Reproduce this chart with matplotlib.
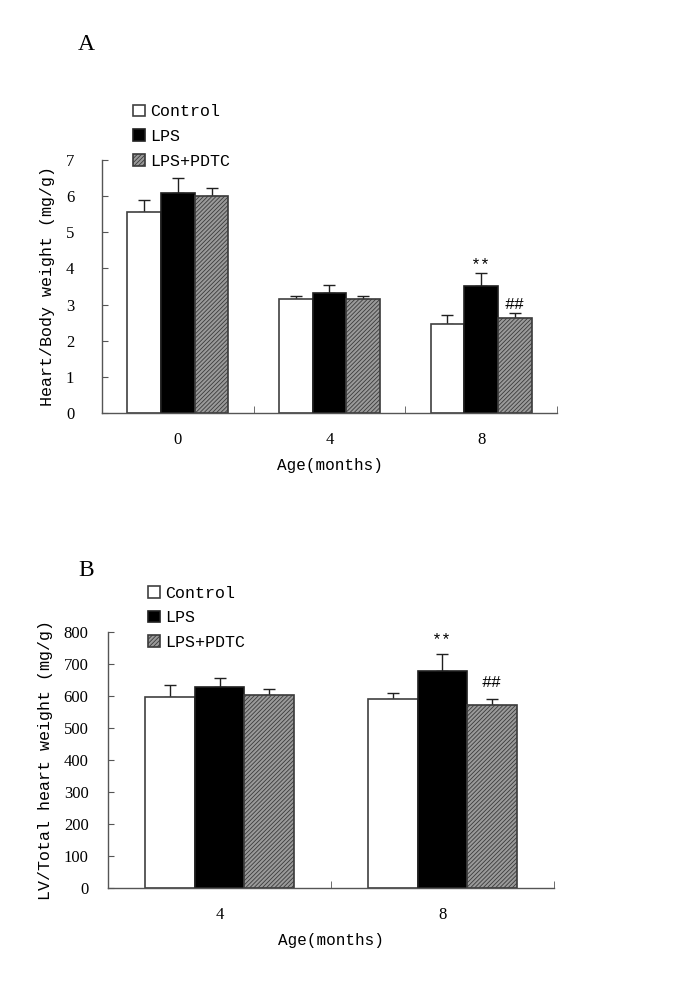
import numpy as np
import matplotlib
matplotlib.use("Agg")
import matplotlib.pyplot as plt

plt.rcParams['font.family'] = ['Liberation Serif', 'DejaVu Serif']
plt.rcParams['hatch.linewidth'] = 0.6

MONO = ['Liberation Mono', 'DejaVu Sans Mono']

groups = ["Control", "LPS", "LPS+PDTC"]

# Panel A: Heart/Body weight (mg/g)
ages_a = ["0", "4", "8"]
control_a = [5.55, 3.15, 2.47]
lps_a = [6.08, 3.32, 3.52]
pdtc_a = [5.99, 3.15, 2.64]
control_a_err = [0.33, 0.10, 0.24]
lps_a_err = [0.42, 0.23, 0.34]
pdtc_a_err = [0.23, 0.10, 0.13]

# Panel B: LV/Total heart weight (mg/g)
ages_b = ["4", "8"]
control_b = [596, 589]
lps_b = [626, 677]
pdtc_b = [603, 571]
control_b_err = [37, 18]
lps_b_err = [29, 52]
pdtc_b_err = [19, 18]

styles = [
    dict(facecolor="white", edgecolor="#404040", hatch=None),
    dict(facecolor="black", edgecolor="#202020", hatch=None),
    dict(facecolor="#9a9a9a", edgecolor="#3a3a3a", hatch="////////"),
]

fig = plt.figure(figsize=(6.85, 9.85), dpi=100)


def draw_panel(ax, ages, series, errs, ymax, ystep, ylabel, marks, leg_anchor, ypad):
    x = np.arange(len(ages))
    w = 0.222
    for i, (vals, err) in enumerate(zip(series, errs)):
        pos = x + (i - 1) * w
        st = styles[i]
        ax.bar(pos, vals, w, color=st["facecolor"], edgecolor=st["edgecolor"],
               hatch=st["hatch"], linewidth=1.2, label=groups[i], zorder=2)
        ax.errorbar(pos, vals, yerr=[np.zeros(len(vals)), err], fmt="none",
                    ecolor="#202020", elinewidth=1.0, capsize=4, capthick=1.0, zorder=1)
    ax.set_xlim(-0.5, len(ages) - 0.5)
    ax.set_ylim(0, ymax)
    ax.set_yticks(np.arange(0, ymax + ystep / 2, ystep))
    ax.set_xticks(x)
    ax.set_xticklabels(ages)
    ax.set_xticks(np.arange(0.5, len(ages), 1.0), minor=True)
    ax.tick_params(axis="x", which="major", length=0, pad=14, labelsize=12)
    ax.tick_params(axis="x", which="minor", direction="in", length=5, color="#555555")
    ax.tick_params(axis="y", direction="in", length=4, pad=ypad, labelsize=12, color="#555555")
    for s in ["top", "right"]:
        ax.spines[s].set_visible(False)
    for s in ["left", "bottom"]:
        ax.spines[s].set_color("#555555")
        ax.spines[s].set_linewidth(1.0)
    ax.set_ylabel(ylabel, fontsize=12, family=MONO)
    ax.set_xlabel("Age(months)", fontsize=11.5, family=MONO)
    for (xi, grp, yv, txt) in marks:
        ax.text(xi + (grp - 1) * w, yv, txt, ha="center", va="center", fontsize=12, family=MONO)
    ax.legend(loc="upper left", bbox_to_anchor=leg_anchor, frameon=False,
              prop={"family": MONO, "size": 12},
              handlelength=0.72, handleheight=0.72, handletextpad=0.3,
              labelspacing=0.58, borderpad=0, borderaxespad=0)
    return ax


ax1 = fig.add_axes([0.149, 0.5807, 0.664, 0.2569])
draw_panel(ax1, ages_a, [control_a, lps_a, pdtc_a],
           [control_a_err, lps_a_err, pdtc_a_err], 7, 1,
           "Heart/Body weight (mg/g)",
           [(2, 1, 4.1, "**"), (2, 2, 2.99, "##")], (0.068, 1.22), 20)
ax1.yaxis.set_label_coords(-0.103, 0.5)
ax1.xaxis.set_label_coords(0.5, -0.178)

ax2 = fig.add_axes([0.1577, 0.0988, 0.651, 0.2599])
draw_panel(ax2, ages_b, [control_b, lps_b, pdtc_b],
           [control_b_err, lps_b_err, pdtc_b_err], 800, 100,
           "LV/Total heart weight (mg/g)",
           [(1, 1, 774, "**"), (1, 2, 640, "##")], (0.09, 1.18), 14)
ax2.yaxis.set_label_coords(-0.123, 0.5)
ax2.xaxis.set_label_coords(0.5, -0.177)

fig.text(78 / 685, 1 - 45 / 985, "A", fontsize=17, ha="left", va="center")
fig.text(78 / 685, 1 - 570 / 985, "B", fontsize=17, ha="left", va="center")

fig.savefig("out.png", dpi=100)
